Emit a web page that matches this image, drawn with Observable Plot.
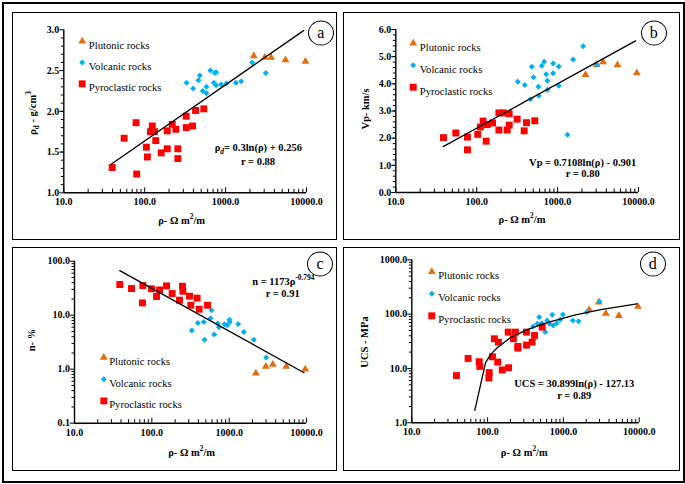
<!DOCTYPE html>
<html><head><meta charset="utf-8">
<script src="https://cdn.jsdelivr.net/npm/d3@7"></script>
<script src="https://cdn.jsdelivr.net/npm/@observablehq/plot@0.6"></script>
<style>
body{margin:0;background:#fff;}
#wrap{position:relative;width:685px;height:484px;font-family:"Liberation Serif","Times New Roman",serif;color:#000;overflow:hidden;}
.frame{position:absolute;left:2px;top:2px;width:683px;height:481px;border:2.5px solid #000;box-sizing:border-box;}
.box{position:absolute;border:1.5px solid #000;box-sizing:border-box;}
.lbl{position:absolute;font-weight:bold;font-size:10.5px;white-space:nowrap;transform:translate(-50%,-50%);line-height:1;}
.ylbl{transform:translate(-50%,-50%) rotate(-90deg);}
.circ{position:absolute;width:26px;height:25px;border:1px solid #000;border-radius:50%;transform:translate(-50%,-50%);text-align:center;line-height:22px;font-size:16px;background:#fff;box-sizing:border-box;}
sub,sup{font-size:70%;line-height:0;}
</style></head><body><div id="wrap"><div class="frame"></div></div><script>
// ---------- shared axis values ----------
const xTicks = [10, 100, 1000, 10000];
const aYTicks = [1.0, 1.5, 2.0, 2.5, 3.0];
const bYTicks = [0, 1, 2, 3, 4, 5, 6];
const cYTicks = [0.1, 1, 10, 100];
const dYTicks = [1, 10, 100, 1000];
const legendNames = ["Plutonic rocks", "Volcanic rocks", "Pyroclastic rocks"];

// ---------- panel a : dry density ----------
const aPyroX = [39.7, 55.7, 78.3, 79.7, 105, 108, 124, 118, 132, 137, 160, 190, 190, 219, 243, 257, 257, 326, 326, 390, 425, 538];
const aPyroY = [1.31, 1.67, 1.86, 1.23, 1.56, 1.44, 1.82, 1.75, 1.75, 1.64, 1.49, 1.76, 1.54, 1.84, 1.78, 1.54, 1.42, 1.94, 1.80, 1.82, 2.01, 2.03];
const aVolcX = [329, 397, 480, 462, 522, 580, 580, 650, 736, 764, 715, 764, 881, 1025, 1337, 1560, 2130, 3140];
const aVolcY = [2.35, 2.28, 2.44, 2.38, 2.25, 2.30, 2.22, 2.50, 2.47, 2.48, 2.35, 2.32, 2.33, 2.34, 2.35, 2.37, 2.60, 2.47];
const aPlutX = [2230, 3050, 3650, 5500, 9700];
const aPlutY = [2.68, 2.66, 2.66, 2.63, 2.61];
const aTrendX = [38.5, 9200];
const aTrendY = [1.35, 2.99];

// ---------- panel b : Vp ----------
const bPyroX = [38.8, 55.2, 76.9, 76.9, 103, 131, 111, 120, 135, 157, 188, 212, 188, 238, 252, 252, 316, 386, 413, 523];
const bPyroY = [2.02, 2.19, 2.04, 1.57, 2.14, 1.89, 2.41, 2.63, 2.50, 2.56, 2.93, 2.93, 2.30, 2.30, 2.90, 2.48, 2.70, 2.27, 2.57, 2.64];
const bVolcX = [322, 393, 462, 480, 503, 580, 586, 638, 682, 722, 750, 750, 881, 881, 1035, 1035, 1325, 1556, 2069, 3082];
const bVolcY = [4.08, 3.96, 3.43, 4.63, 4.24, 3.89, 3.56, 4.67, 4.81, 4.35, 4.11, 3.78, 4.75, 4.39, 4.64, 3.93, 2.13, 4.90, 5.38, 4.70];
const bPlutX = [2213, 3020, 3655, 5490, 9530];
const bPlutY = [4.33, 4.70, 4.80, 4.69, 4.40];
const bTrendX = [38.5, 9200];
const bTrendY = [1.69, 5.58];

// ---------- panel c : porosity ----------
const cPyroX = [38.5, 54.6, 76.5, 75.7, 99, 115, 126, 155, 183, 228, 249, 252, 307, 319, 385, 409, 525];
const cPyroY = [37, 31.2, 35.4, 16.9, 30.8, 22.2, 29.4, 34.9, 25.2, 19, 34.4, 27.8, 22.5, 15.3, 20.7, 12.9, 15.3];
const cVolcX = [329, 393, 470, 479, 591, 574, 640, 713, 735, 870, 942, 1009, 1020, 1306, 1549, 2085, 3010];
const cVolcY = [5.2, 7.2, 7.5, 3.5, 12.4, 8.8, 4.4, 7.0, 6.0, 6.8, 6.5, 8.2, 7.5, 6.9, 4.9, 3.5, 1.64];
const cPlutX = [2213, 2980, 3670, 5460, 9620];
const cPlutY = [0.84, 1.12, 1.22, 1.12, 1.0];
const cTrendX = [38.5, 9300];
const cTrendY = [67, 0.86];

// ---------- panel d : UCS ----------
const dPyroX = [38.8, 55.3, 77.4, 78.9, 104, 105, 116, 123, 139, 136, 156, 189, 187, 233, 219, 251, 251, 326, 326, 387, 416, 525];
const dPyroY = [7.4, 15.3, 13.3, 10.9, 6.7, 8.4, 16.4, 35.2, 30.5, 13.1, 9.4, 10.3, 46.7, 46.7, 35.2, 25.4, 23.7, 46.7, 26.9, 30.5, 40.5, 57.7];
const dVolcX = [399, 451, 479, 519, 575, 611, 656, 711, 733, 818, 907, 985, 1333, 1585, 2039, 2998];
const dVolcY = [59.3, 66.4, 88.1, 68.2, 46.7, 76.4, 66.4, 97.2, 61.8, 68.2, 78.7, 98.7, 76.4, 74.3, 109, 171];
const dPlutX = [2188, 2937, 3631, 5395, 9620];
const dPlutY = [120, 165, 103, 93, 138];
const dTrendX = [67.8, 94, 110, 134, 200, 333, 611, 1400, 3100, 9300];
const dTrendY = [1.7, 12.8, 18.2, 24, 37, 52, 70, 96, 121, 155];

const COL = {plut: "#E46C0A", volc: "#00B0F0", pyro: "#FF0000"};

const xMinor = [];
for (const dec of [10, 100, 1000]) for (let k = 2; k <= 9; k++) xMinor.push(k * dec);
const logMinor = (lo, hi) => { const m = []; for (let dec = lo; dec < hi; dec *= 10) for (let k = 2; k <= 9; k++) m.push(k * dec); return m; };
const linMinor = (lo, hi, step) => { const m = []; const n = Math.round((hi - lo) / step); for (let i = 1; i < n; i++) m.push(+(lo + i * step).toFixed(3)); return m; };

const pts = (xs, ys) => xs.map((x, i) => ({x, y: ys[i]}));
const fmt = d3.format(".1f");
const wrap = document.getElementById("wrap");

function makePanel(p) {
  const plotH = p.height - p.mt - p.mb;
  const lg = p.legend;
  const plot = Plot.plot({
    width: p.width, height: p.height,
    marginLeft: p.ml, marginRight: p.mr, marginTop: p.mt, marginBottom: p.mb,
    x: {type: "log", domain: [10, 10000], label: null},
    y: {type: p.yType, domain: p.yDomain, label: null},
    style: {fontFamily: "'Liberation Serif', 'Times New Roman', serif", fontSize: "10px", fontWeight: "bold", background: "transparent", overflow: "visible", color: "#000"},
    marks: [
      Plot.axisY({ticks: p.yTicks, tickSize: 4, tickPadding: 0.5, tickFormat: fmt, stroke: "#000", strokeWidth: 1}),
      Plot.axisY({ticks: p.yMinor, tickSize: 2.5, tickFormat: () => "", stroke: "#000", strokeWidth: 1}),
      Plot.axisX({ticks: xTicks, tickSize: 0, tickPadding: 5.5, tickFormat: fmt}),
      Plot.tickX(xTicks, {x: d => d, insetTop: plotH - 5, stroke: "#000", strokeWidth: 1}),
      Plot.tickX(xMinor, {x: d => d, insetTop: plotH - 3.5, stroke: "#000", strokeWidth: 1}),
      Plot.ruleX([10], {stroke: "#000", strokeWidth: 1.4}),
      Plot.ruleY([p.yDomain[0]], {stroke: "#000", strokeWidth: 1.4}),
      Plot.dot(pts(p.plutX, p.plutY), {x: "x", y: "y", symbol: "triangle", fill: COL.plut, r: 2.9}),
      Plot.dot(pts(p.volcX, p.volcY), {x: "x", y: "y", symbol: "diamond2", fill: COL.volc, r: 2.7}),
      Plot.dot(pts(p.pyroX, p.pyroY), {x: "x", y: "y", symbol: "square", fill: COL.pyro, r: 3.9}),
      Plot.line(pts(p.trendX, p.trendY), {x: "x", y: "y", stroke: "#000", strokeWidth: 1.3}),
      // legend
      Plot.dot([0], {frameAnchor: "top-left", dx: lg.sx, dy: lg.y0, symbol: "triangle", fill: COL.plut, r: 2.9}),
      Plot.dot([0], {frameAnchor: "top-left", dx: lg.sx, dy: lg.y0 + lg.gap, symbol: "diamond2", fill: COL.volc, r: 2.7}),
      Plot.dot([0], {frameAnchor: "top-left", dx: lg.sx, dy: lg.y0 + 2 * lg.gap, symbol: "square", fill: COL.pyro, r: 3.9}),
      Plot.text(legendNames, {frameAnchor: "top-left", dx: lg.tx, dy: (d, i) => 0, text: d => d, textAnchor: "start", fontWeight: "normal", fontSize: 10.6, filter: (d, i) => i === 0, dy: lg.y0}),
      Plot.text(legendNames, {frameAnchor: "top-left", dx: lg.tx, text: d => d, textAnchor: "start", fontWeight: "normal", fontSize: 10.6, filter: (d, i) => i === 1, dy: lg.y0 + lg.gap}),
      Plot.text(legendNames, {frameAnchor: "top-left", dx: lg.tx, text: d => d, textAnchor: "start", fontWeight: "normal", fontSize: 10.6, filter: (d, i) => i === 2, dy: lg.y0 + 2 * lg.gap})
    ]
  });
  plot.style.position = "absolute";
  plot.style.left = p.left + "px";
  plot.style.top = p.top + "px";
  const box = document.createElement("div");
  box.className = "box";
  Object.assign(box.style, {left: p.left + "px", top: p.top + "px", width: p.width + "px", height: p.height + "px"});
  wrap.appendChild(box);
  wrap.appendChild(plot);
  for (const t of p.texts) {
    const el = document.createElement("div");
    el.className = t.cls || "lbl";
    el.style.left = t.x + "px";
    el.style.top = t.y + "px";
    if (t.size) el.style.fontSize = t.size + "px";
    el.innerHTML = t.html;
    wrap.appendChild(el);
  }
}

const xLabel = "ρ- Ω m<sup>2</sup>/m";

makePanel({
  left: 12, top: 12, width: 325, height: 228, ml: 51.3, mr: 31, mt: 17.3, mb: 47.7,
  yType: "linear", yDomain: [1, 3], yTicks: aYTicks, yMinor: linMinor(1, 3, 0.1),
  pyroX: aPyroX, pyroY: aPyroY, volcX: aVolcX, volcY: aVolcY, plutX: aPlutX, plutY: aPlutY,
  trendX: aTrendX, trendY: aTrendY,
  legend: {sx: 18.4, tx: 25, y0: 11.4, gap: 21.3},
  texts: [
    {x: 181.7, y: 221, html: xLabel},
    {x: 33.3, y: 113, html: "ρ<sub>d</sub> - g/cm<sup>3</sup>", cls: "lbl ylbl"},
    {x: 258.3, y: 148.3, html: "ρ<sub><i>d</i></sub>= 0.3ln(ρ) + 0.256"},
    {x: 258, y: 162.3, html: "r = 0.88"},
    {x: 320.7, y: 32.7, html: "a", cls: "circ"}
  ]
});

makePanel({
  left: 343, top: 12, width: 337, height: 228, ml: 52.3, mr: 42, mt: 17, mb: 48,
  yType: "linear", yDomain: [0, 6], yTicks: bYTicks, yMinor: linMinor(0, 6, 0.2),
  pyroX: bPyroX, pyroY: bPyroY, volcX: bVolcX, volcY: bVolcY, plutX: bPlutX, plutY: bPlutY,
  trendX: bTrendX, trendY: bTrendY,
  legend: {sx: 17.4, tx: 24, y0: 13.7, gap: 22},
  texts: [
    {x: 522, y: 220, html: xLabel},
    {x: 366, y: 109, html: "Vp- km/s", cls: "lbl ylbl"},
    {x: 582.7, y: 163.3, html: "Vp = 0.7108ln(ρ) - 0.901"},
    {x: 582.7, y: 174, html: "r = 0.80"},
    {x: 653.7, y: 32.7, html: "b", cls: "circ"}
  ]
});

makePanel({
  left: 12, top: 247, width: 325, height: 224, ml: 62, mr: 31, mt: 13.7, mb: 48.3,
  yType: "log", yDomain: [0.1, 100], yTicks: cYTicks, yMinor: logMinor(0.1, 100),
  pyroX: cPyroX, pyroY: cPyroY, volcX: cVolcX, volcY: cVolcY, plutX: cPlutX, plutY: cPlutY,
  trendX: cTrendX, trendY: cTrendY,
  legend: {sx: 29.3, tx: 34.7, y0: 96.3, gap: 21.7},
  texts: [
    {x: 191.7, y: 453, html: xLabel},
    {x: 31.7, y: 340, html: "n- %", cls: "lbl ylbl"},
    {x: 283.3, y: 282, html: "n = 1173ρ<sup>-0.794</sup>"},
    {x: 282.7, y: 294.3, html: "r = 0.91"},
    {x: 320, y: 263.7, html: "c", cls: "circ"}
  ]
});

makePanel({
  left: 343, top: 247, width: 337, height: 224, ml: 68.3, mr: 41.3, mt: 12.3, mb: 48.7,
  yType: "log", yDomain: [1, 1000], yTicks: dYTicks, yMinor: logMinor(1, 1000),
  pyroX: dPyroX, pyroY: dPyroY, volcX: dVolcX, volcY: dVolcY, plutX: dPlutX, plutY: dPlutY,
  trendX: dTrendX, trendY: dTrendY,
  legend: {sx: 20, tx: 26.4, y0: 12, gap: 22},
  texts: [
    {x: 524.3, y: 452.7, html: xLabel},
    {x: 365.3, y: 342, html: "UCS - MPa", cls: "lbl ylbl"},
    {x: 574.3, y: 384.3, html: "UCS = 30.899ln(ρ) - 127.13"},
    {x: 574.3, y: 396, html: "r = 0.89"},
    {x: 652.7, y: 263.7, html: "d", cls: "circ"}
  ]
});
</script></body></html>
